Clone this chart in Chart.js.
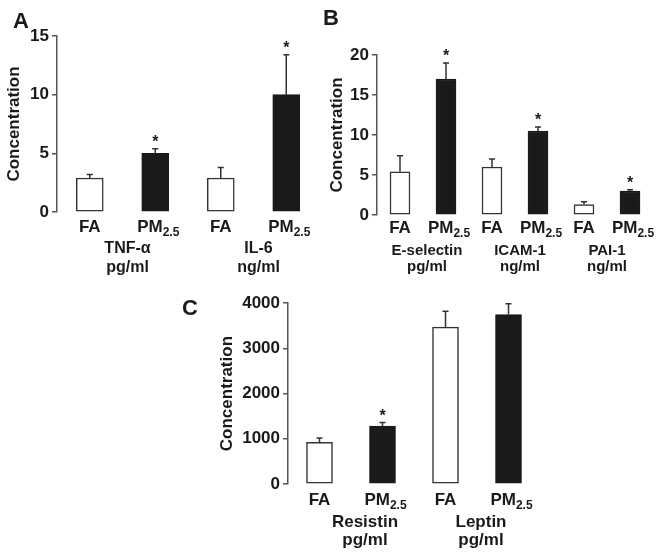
<!DOCTYPE html>
<html>
<head>
<meta charset="utf-8">
<script src="https://cdn.jsdelivr.net/npm/chart.js@4.4.1/dist/chart.umd.min.js"></script>
<style>
  body { margin: 0; background: #fff; width: 659px; height: 557px; position: relative; overflow: hidden; }
  canvas { position: absolute; }
</style>
</head>
<body>
<canvas id="chartA" style="left:0;top:0" width="330" height="295"></canvas>
<canvas id="chartB" style="left:318px;top:0" width="341" height="295"></canvas>
<canvas id="chartC" style="left:160px;top:290px" width="400" height="267"></canvas>
<script>
const FONT = '"Liberation Sans", Arial, sans-serif';
const INK = '#1a1a1a';
const AXIS = '#555';

// panel A
const CATS_A = ['FA', 'PM2.5', 'FA', 'PM2.5'];
const MEAN_A = [2.9, 5.0, 2.9, 10.0];
const ERR_A = [0.3, 0.4, 0.9, 3.4];
const SIG_A = [false, true, false, true];
const GROUPS_A = [['TNF-α', 'pg/ml'], ['IL-6', 'ng/ml']];
const TICKS_A = [0, 5, 10, 15];

// panel B
const CATS_B = ['FA', 'PM2.5', 'FA', 'PM2.5', 'FA', 'PM2.5'];
const MEAN_B = [5.4, 17.0, 6.0, 10.5, 1.3, 3.0];
const ERR_B = [2.0, 2.0, 1.0, 0.5, 0.35, 0.15];
const SIG_B = [false, true, false, true, false, true];
const GROUPS_B = [['E-selectin', 'pg/ml'], ['ICAM-1', 'ng/ml'], ['PAI-1', 'ng/ml']];
const TICKS_B = [0, 5, 10, 15, 20];

// panel C
const CATS_C = ['FA', 'PM2.5', 'FA', 'PM2.5'];
const MEAN_C = [920, 1280, 3470, 3750];
const ERR_C = [95, 80, 350, 240];
const SIG_C = [false, true, false, false];
const GROUPS_C = [['Resistin', 'pg/ml'], ['Leptin', 'pg/ml']];
const TICKS_C = [0, 1000, 2000, 3000, 4000];

// error bars, stars, category + group labels, panel letter
function decor(cfg) {
  return {
    id: 'decor' + cfg.letter,
    afterDatasetsDraw(chart) {
      const ctx = chart.ctx;
      const xs = chart.scales.x, ys = chart.scales.y;
      const bottom = chart.chartArea.bottom;
      ctx.save();
      ctx.strokeStyle = '#333';
      ctx.lineWidth = 1.5;
      ctx.fillStyle = INK;
      cfg.mean.forEach((m, i) => {
        const x = xs.getPixelForValue(i);
        const top = ys.getPixelForValue(m);
        const cap = ys.getPixelForValue(m + cfg.err[i]);
        ctx.beginPath();
        ctx.moveTo(x, top);
        ctx.lineTo(x, cap);
        ctx.moveTo(x - 3, cap);
        ctx.lineTo(x + 3, cap);
        ctx.stroke();
        if (cfg.sig[i]) {
          ctx.font = 'bold 16px ' + FONT;
          ctx.textAlign = 'center';
          ctx.textBaseline = 'alphabetic';
          ctx.fillText('*', x, cap - 2);
        }
        // category label, with subscript part
        const parts = cfg.cats[i].match(/^(\D+)(\d.*)?$/);
        ctx.textAlign = 'left';
        ctx.font = 'bold ' + cfg.catFont + 'px ' + FONT;
        const w1 = ctx.measureText(parts[1]).width;
        let w2 = 0;
        if (parts[2]) {
          ctx.font = 'bold ' + cfg.subFont + 'px ' + FONT;
          w2 = ctx.measureText(parts[2]).width;
        }
        const x0 = x - (w1 + w2) / 2 + (parts[2] ? 3 : 0);
        const base = bottom + cfg.catBase;
        ctx.font = 'bold ' + cfg.catFont + 'px ' + FONT;
        ctx.fillText(parts[1], x0, base);
        if (parts[2]) {
          ctx.font = 'bold ' + cfg.subFont + 'px ' + FONT;
          ctx.fillText(parts[2], x0 + w1, base + 4);
        }
      });
      ctx.textAlign = 'center';
      ctx.font = 'bold ' + cfg.grpFont + 'px ' + FONT;
      cfg.groups.forEach((g, j) => {
        const cx = (xs.getPixelForValue(2 * j) + xs.getPixelForValue(2 * j + 1)) / 2 + cfg.grpShift[j];
        ctx.fillText(g[0], cx, bottom + cfg.g1);
        ctx.fillText(g[1], cx, bottom + cfg.g2);
      });
      ctx.textAlign = 'left';
      ctx.font = 'bold 22px ' + FONT;
      ctx.fillText(cfg.letter, cfg.lx, cfg.ly);
      ctx.restore();
    }
  };
}

function makeChart(id, cats, mean, ticks, barW, yWidth, pad, cfg) {
  return new Chart(document.getElementById(id), {
    type: 'bar',
    data: {
      labels: cats,
      datasets: [{
        data: mean,
        backgroundColor: cats.map(c => c === 'FA' ? '#fff' : INK),
        borderColor: cats.map(c => c === 'FA' ? '#333' : INK),
        borderWidth: 1.5,
        borderSkipped: false,
        barThickness: barW
      }]
    },
    options: {
      responsive: false,
      animation: false,
      devicePixelRatio: 1,
      layout: { padding: pad },
      plugins: { legend: { display: false }, tooltip: { enabled: false } },
      scales: {
        x: { display: false, offset: true },
        y: {
          min: ticks[0],
          max: ticks[ticks.length - 1],
          afterBuildTicks: s => { s.ticks = ticks.map(v => ({ value: v })); },
          afterFit: s => { s.width = yWidth; },
          grid: { drawOnChartArea: false, drawTicks: true, tickLength: 5, color: AXIS, lineWidth: 1.5 },
          border: { display: true, color: AXIS, width: 1.5 },
          ticks: {
            color: INK,
            padding: 3,
            font: { family: FONT, size: 17, weight: 'bold' },
            callback: v => String(v)
          },
          title: {
            display: true,
            text: 'Concentration',
            color: INK,
            padding: { top: 4, bottom: 0 },
            font: { family: FONT, size: 17, weight: 'bold', lineHeight: 1.2 }
          }
        }
      }
    },
    plugins: [decor(Object.assign({ cats, mean }, cfg))]
  });
}

makeChart('chartA', CATS_A, MEAN_A, TICKS_A, 27, 57,
  { left: 0, top: 36, right: 11, bottom: 83 },
  { letter: 'A', lx: 13, ly: 28, err: ERR_A, sig: SIG_A, groups: GROUPS_A,
    catFont: 17, subFont: 12, grpFont: 16, catBase: 20, g1: 41, g2: 60, grpShift: [5, 5] });

makeChart('chartB', CATS_B, MEAN_B, TICKS_B, 20, 54,
  { left: 5, top: 55, right: 6, bottom: 80 },
  { letter: 'B', lx: 5, ly: 25, err: ERR_B, sig: SIG_B, groups: GROUPS_B,
    catFont: 17, subFont: 12, grpFont: 15, catBase: 18, g1: 40, g2: 56, grpShift: [4, 5, 0] });

makeChart('chartC', CATS_C, MEAN_C, TICKS_C, 26, 75,
  { left: 53, top: 12, right: 20, bottom: 73 },
  { letter: 'C', lx: 22, ly: 25, err: ERR_C, sig: SIG_C, groups: GROUPS_C,
    catFont: 17, subFont: 12, grpFont: 17, catBase: 21, g1: 43, g2: 61, grpShift: [14, 4] });
</script>
</body>
</html>
